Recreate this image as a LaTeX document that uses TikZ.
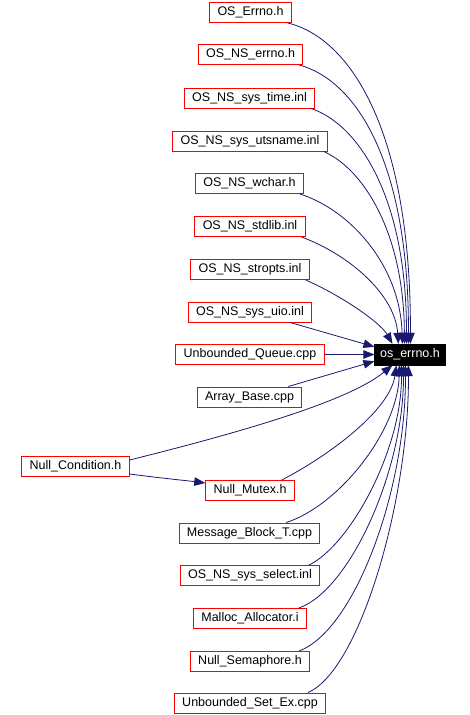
\documentclass[tikz,border=0pt]{standalone}
\usepackage{fontspec}
\setmainfont{Liberation Sans}
\usetikzlibrary{arrows.meta}
\definecolor{edgeblue}{HTML}{191970}
\definecolor{boxred}{HTML}{FF0000}
\begin{document}
\begin{tikzpicture}[x=1pt,y=-1pt,
  file/.style={draw=boxred, line width=1pt, fill=white, minimum height=20pt, inner xsep=7.8pt, inner ysep=0pt, font=\fontsize{12.5}{14}\selectfont},
  hub/.style={draw=black, fill=black, text=white, minimum height=21pt, inner xsep=5.5pt, inner ysep=0pt, font=\fontsize{12.5}{14}\selectfont},
  edge/.style={draw=edgeblue, line width=0.8pt, -{Triangle[length=11pt,width=8.5pt]}}]
\fill[white] (0,0) rectangle (470,715);
\useasboundingbox (0,0) rectangle (470,715);

\node[hub] (os) at (410,354.5) {os\_errno.h};

\node[file] (n1) at (250.5,12.5) {OS\_Errno.h};
\node[file] (n2) at (250.5,54.5) {OS\_NS\_errno.h};
\node[file] (n3) at (249.5,98) {OS\_NS\_sys\_time.inl};
\node[file] (n4) at (250,141) {OS\_NS\_sys\_utsname.inl};
\node[file] (n5) at (249.5,183.5) {OS\_NS\_wchar.h};
\node[file] (n6) at (250,226.5) {OS\_NS\_stdlib.inl};
\node[file] (n7) at (250,269.5) {OS\_NS\_stropts.inl};
\node[file] (n8) at (250,312) {OS\_NS\_sys\_uio.inl};
\node[file] (n9) at (250,354.5) {Unbounded\_Queue.cpp};
\node[file] (n10) at (249.5,397) {Array\_Base.cpp};
\node[file] (nc) at (75.5,466.5) {Null\_Condition.h};
\node[file] (nm) at (250,490.5) {Null\_Mutex.h};
\node[file] (n13) at (249.5,533) {Message\_Block\_T.cpp};
\node[file] (n14) at (250,575.5) {OS\_NS\_sys\_select.inl};
\node[file] (n15) at (250,618.5) {Malloc\_Allocator.i};
\node[file] (n16) at (250,661.5) {Null\_Semaphore.h};
\node[file] (n17) at (250,703) {Unbounded\_Set\_Ex.cpp};

% upper edges
\draw[edge] ([xshift=-4pt]n1.south east) .. controls (350,38) and (411,130) .. ([xshift=36pt]os.north west);
\draw[edge] ([xshift=-4pt]n2.south east) .. controls (355,80) and (409,160) .. ([xshift=34pt]os.north west);
\draw[edge] ([xshift=-4pt]n3.south east) .. controls (360,125) and (407,200) .. ([xshift=32pt]os.north west);
\draw[edge] ([xshift=-4pt]n4.south east) .. controls (365,170) and (404,235) .. ([xshift=30pt]os.north west);
\draw[edge] ([xshift=-4pt]n5.south east) .. controls (350,210) and (400,265) .. ([xshift=28pt]os.north west);
\draw[edge] ([xshift=-4pt]n6.south east) .. controls (350,255) and (395,295) .. ([xshift=24pt]os.north west);
\draw[edge] ([xshift=-4pt]n7.south east) .. controls (340,295) and (380,322) .. ([xshift=18pt]os.north west);
\draw[edge] ([xshift=-22pt]n8.south east) -- ([yshift=-3pt]os.north west);
\draw[edge] (n9.east) -- (os.west);
\draw[edge] ([xshift=-14pt]n10.north east) -- ([yshift=4pt]os.south west);

% lower edges
\draw[edge] ([yshift=-4pt]nc.north east) .. controls (250,430) and (350,400) .. ([xshift=18pt]os.south west);
\draw[edge] ([yshift=3pt]nc.south east) .. controls (160,478) and (190,481) .. ([yshift=-3pt]nm.north west);
\draw[edge] ([xshift=-13pt]nm.north east) .. controls (330,455) and (390,410) .. ([xshift=22pt]os.south west);
\draw[edge] ([xshift=-34pt]n13.north east) .. controls (340,505) and (398,430) .. ([xshift=25pt]os.south west);
\draw[edge] ([xshift=-11pt]n14.north east) .. controls (350,545) and (402,450) .. ([xshift=27pt]os.south west);
\draw[edge] ([xshift=-8pt]n15.north east) .. controls (350,590) and (404,470) .. ([xshift=29pt]os.south west);
\draw[edge] ([xshift=-11pt]n16.north east) .. controls (355,630) and (406,490) .. ([xshift=31pt]os.south west);
\draw[edge] ([xshift=-18pt]n17.north east) .. controls (360,670) and (409,500) .. ([xshift=34pt]os.south west);
\end{tikzpicture}
\end{document}
